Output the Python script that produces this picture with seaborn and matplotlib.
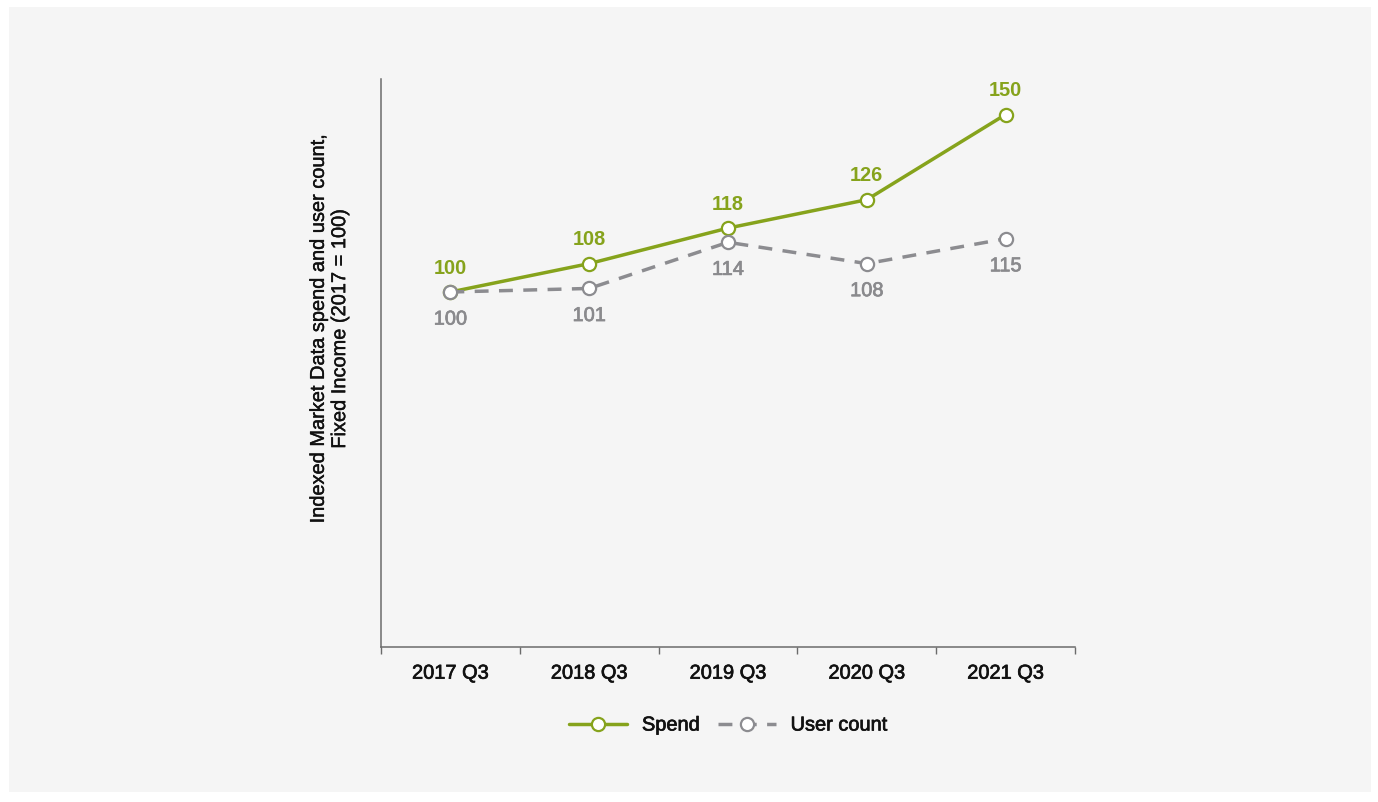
import matplotlib
matplotlib.use("Agg")
import matplotlib.pyplot as plt
import matplotlib.patheffects as pe
from matplotlib.patches import Rectangle
from matplotlib.ticker import FixedLocator, NullFormatter
import pandas as pd
import seaborn as sns

# Data
quarters = ["2017 Q3", "2018 Q3", "2019 Q3", "2020 Q3", "2021 Q3"]
spend = [100, 108, 118, 126, 150]
user_count = [100, 101, 114, 108, 115]

GREEN = "#86a31c"
GREY = "#8c8c90"
GREY_TXT = "#8a8a8d"
PANEL = "#f5f5f5"
SPINE = "#6b6b6b"
INK = "#111111"

sns.set_style("white")
plt.rcParams["font.family"] = ["Liberation Sans", "DejaVu Sans"]
plt.rcParams["font.size"] = 14.4


def heavier(color, lw=0.5):
    # thin outline in the text colour gives a medium-weight look
    return [pe.withStroke(linewidth=lw, foreground=color)]


df_spend = pd.DataFrame({"quarter": quarters, "value": spend})
df_users = pd.DataFrame({"quarter": quarters, "value": user_count})

fig = plt.figure(figsize=(13.78, 8.03), dpi=100, facecolor="white")
fig.patches.append(Rectangle((9 / 1378, 1 - 793 / 803), 1362 / 1378, 785 / 803,
                             transform=fig.transFigure, facecolor=PANEL,
                             edgecolor="none", zorder=-10))

ax = fig.add_axes([381 / 1378, 1 - 648 / 803, 694 / 1378, 568 / 803])
ax.set_facecolor("none")

sns.lineplot(data=df_spend, x="quarter", y="value", ax=ax, color=GREEN,
             linewidth=2.5, marker="o", markersize=9.5, markerfacecolor="white",
             markeredgecolor=GREEN, markeredgewidth=1.6, label="Spend",
             zorder=3)
sns.lineplot(data=df_users, x="quarter", y="value", ax=ax, color=GREY,
             linewidth=2.5, marker="o", markersize=9.5, markerfacecolor="white",
             markeredgecolor=GREY, markeredgewidth=1.6, label="User count",
             dashes=(4.0, 3.0), zorder=4)

# Value labels
for i, v in enumerate(spend):
    ax.annotate(f"{v}", (i, v), xytext=(0, 18), textcoords="offset points",
                ha="center", va="center", color=GREEN, fontweight="bold",
                fontsize=14.4)
for i, v in enumerate(user_count):
    ax.annotate(f"{v}", (i, v), xytext=(0, -19.5), textcoords="offset points",
                ha="center", va="center", color=GREY_TXT, fontsize=14.4,
                path_effects=heavier(GREY_TXT))

ax.set_xlim(-0.5, len(quarters) - 0.5)
ax.set_ylim(0, 160)
ax.set_yticks([])
ax.set_xlabel("")
ax.set_ylabel("")

ax.set_xticks(range(len(quarters)))
ax.set_xticklabels(quarters, fontsize=14.4, color=INK)
for lbl in ax.get_xticklabels():
    lbl.set_path_effects(heavier(INK))
ax.tick_params(axis="x", which="major", length=0, pad=12)
ax.xaxis.set_minor_locator(FixedLocator([i - 0.5 for i in range(len(quarters) + 1)]))
ax.xaxis.set_minor_formatter(NullFormatter())
ax.tick_params(axis="x", which="minor", length=5, width=1, color=SPINE,
               direction="out", bottom=True)

for side in ("top", "right"):
    ax.spines[side].set_visible(False)
for side in ("left", "bottom"):
    ax.spines[side].set_color(SPINE)
    ax.spines[side].set_linewidth(1.1)

fig.text(329 / 1378, 1 - 330 / 803,
         "Indexed Market Data spend and user count,\nFixed Income (2017 = 100)",
         rotation=90, ha="center", va="center", multialignment="center",
         fontsize=14.4, color=INK, linespacing=1.15,
         path_effects=heavier(INK, 0.3))

handles, labels = ax.get_legend_handles_labels()
leg = ax.legend(handles, labels, loc="center", ncol=2, frameon=False,
                bbox_to_anchor=(728 / 1378, 1 - 726 / 803),
                bbox_transform=fig.transFigure, handlelength=2.9,
                handletextpad=0.75, columnspacing=0.9, fontsize=14.4)
for t in leg.get_texts():
    t.set_color(INK)
    t.set_path_effects(heavier(INK))

fig.savefig("out.png", dpi=100, facecolor="white")
